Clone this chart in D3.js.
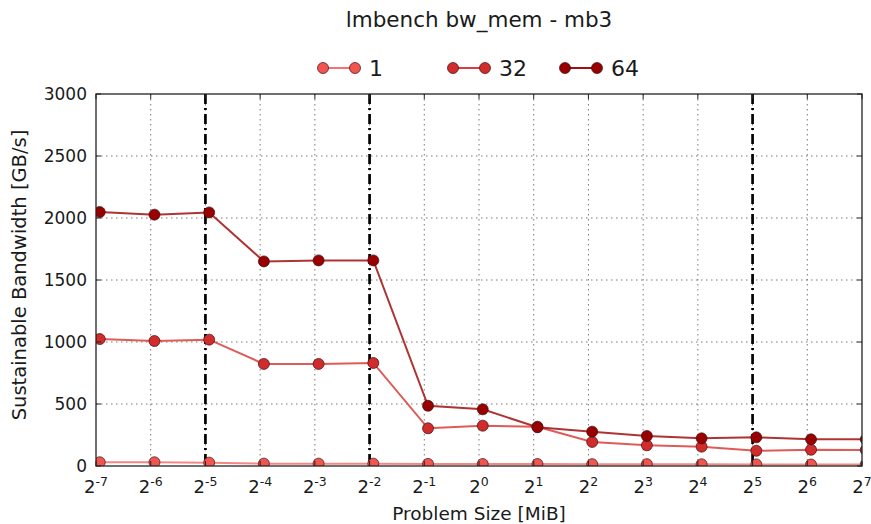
<!DOCTYPE html>
<html>
<head>
<meta charset="utf-8">
<script src="https://cdn.jsdelivr.net/npm/d3@7"></script>
<style>
  body { margin: 0; background: #fff; }
  svg text { font-family: "DejaVu Sans", sans-serif; fill: #1a1a1a; }
</style>
</head>
<body>
<svg id="chart" width="871" height="524"></svg>
<script>
// exponents of the problem size, 2^k MiB
const sizeExponents = [-7, -6, -5, -4, -3, -2, -1, 0, 1, 2, 3, 4, 5, 6, 7];
// sizes were measured in MB, plotted on a MiB axis
const sizeFactor = 1.048576;

const threads = ["1", "32", "64"];
const bw1  = [30, 30, 27, 19, 19, 19, 17, 16, 16, 15, 15, 14, 13, 12, 12];
const bw32 = [1024, 1008, 1019, 823, 823, 831, 304, 325, 317, 194, 167, 156, 123, 131, 129];
const bw64 = [2048, 2027, 2045, 1650, 1658, 1658, 486, 457, 312, 277, 242, 223, 231, 215, 215];

const cacheExponents = [-5, -2, 5];
const yTicks = [0, 500, 1000, 1500, 2000, 2500, 3000];

const series = [
  { name: threads[0], values: bw1,  line: "#f27370", fill: "#f2544e" },
  { name: threads[1], values: bw32, line: "#d83e3b", fill: "#d22b2b" },
  { name: threads[2], values: bw64, line: "#a01010", fill: "#990000" }
];

const margin = { top: 94, right: 9, bottom: 58, left: 96 };
const svg = d3.select("#chart");
const width = +svg.attr("width") - margin.left - margin.right;
const height = +svg.attr("height") - margin.top - margin.bottom;

const x = d3.scaleLog().base(2).domain([Math.pow(2, -7), Math.pow(2, 7)]).range([0, width]);
const y = d3.scaleLinear().domain([0, 3000]).range([height, 0]);

const g = svg.append("g").attr("transform", "translate(" + margin.left + "," + margin.top + ")");

svg.append("defs").append("clipPath").attr("id", "plotClip")
  .append("rect").attr("width", width).attr("height", height);

// grid
const xTickVals = sizeExponents.map(k => Math.pow(2, k));
g.append("g").selectAll("line").data(xTickVals.slice(1, -1)).join("line")
  .attr("x1", d => x(d)).attr("x2", d => x(d)).attr("y1", 0).attr("y2", height)
  .attr("stroke", "#555").attr("stroke-width", 0.8).attr("stroke-dasharray", "1.5,3.5");
g.append("g").selectAll("line").data(yTicks.slice(1, -1)).join("line")
  .attr("x1", 0).attr("x2", width).attr("y1", d => y(d)).attr("y2", d => y(d))
  .attr("stroke", "#555").attr("stroke-width", 0.8).attr("stroke-dasharray", "1.5,3.5");

// cache boundaries
g.append("g").selectAll("line").data(cacheExponents).join("line")
  .attr("x1", d => x(Math.pow(2, d))).attr("x2", d => x(Math.pow(2, d)))
  .attr("y1", 0).attr("y2", height)
  .attr("stroke", "#000").attr("stroke-width", 2.7).attr("stroke-dasharray", "10,4,2,4");

// series
const plot = g.append("g").attr("clip-path", "url(#plotClip)");
const line = d3.line()
  .x((d, i) => x(Math.pow(2, sizeExponents[i]) * sizeFactor))
  .y(d => y(d));

series.forEach(s => {
  plot.append("path").datum(s.values)
    .attr("fill", "none").attr("stroke", s.line).attr("stroke-width", 2)
    .attr("stroke-opacity", 0.85).attr("d", line);
  plot.append("g").selectAll("circle").data(s.values).join("circle")
    .attr("cx", (d, i) => x(Math.pow(2, sizeExponents[i]) * sizeFactor))
    .attr("cy", d => y(d))
    .attr("r", 5.5)
    .attr("fill", s.fill)
    .attr("stroke", "#3a1010").attr("stroke-opacity", 0.7).attr("stroke-width", 1);
});

// frame
g.append("rect").attr("width", width).attr("height", height)
  .attr("fill", "none").attr("stroke", "#222").attr("stroke-width", 1.3);

// ticks (inside, both sides)
const tickLen = 5;
xTickVals.forEach(v => {
  g.append("line").attr("x1", x(v)).attr("x2", x(v)).attr("y1", height).attr("y2", height - tickLen)
    .attr("stroke", "#222");
  g.append("line").attr("x1", x(v)).attr("x2", x(v)).attr("y1", 0).attr("y2", tickLen)
    .attr("stroke", "#222");
});
yTicks.forEach(v => {
  g.append("line").attr("x1", 0).attr("x2", tickLen).attr("y1", y(v)).attr("y2", y(v))
    .attr("stroke", "#222");
  g.append("line").attr("x1", width).attr("x2", width - tickLen).attr("y1", y(v)).attr("y2", y(v))
    .attr("stroke", "#222");
});

// tick labels
g.append("g").selectAll("text").data(yTicks).join("text")
  .attr("x", -9).attr("y", d => y(d)).attr("dy", "0.36em")
  .attr("text-anchor", "end").style("font-size", "17px")
  .text(d => d);

const xl = g.append("g").selectAll("text").data(sizeExponents).join("text")
  .attr("x", d => x(Math.pow(2, d))).attr("y", height + 27)
  .attr("text-anchor", "middle").style("font-size", "18px");
xl.append("tspan").text("2");
xl.append("tspan").attr("dy", "-0.55em").style("font-size", "12.5px").text(d => d < 0 ? "-" + (-d) : d);

// axis labels
g.append("text").attr("x", width / 2).attr("y", height + 54)
  .attr("text-anchor", "middle").style("font-size", "18.5px").text("Problem Size [MiB]");
g.append("text").attr("transform", "translate(" + (-70) + "," + (height / 2 - 5) + ") rotate(-90)")
  .attr("text-anchor", "middle").style("font-size", "19.5px").text("Sustainable Bandwidth [GB/s]");

// title
svg.append("text").attr("x", margin.left + width / 2).attr("y", 27)
  .attr("text-anchor", "middle").style("font-size", "21.5px").text("lmbench bw_mem - mb3");

// legend
const legendX = [323, 453, 565];
const legend = svg.append("g").selectAll("g").data(series).join("g")
  .attr("transform", (d, i) => "translate(" + legendX[i] + ",68)");
legend.append("line").attr("x1", 0).attr("x2", 32).attr("stroke", d => d.line).attr("stroke-width", 2);
legend.selectAll("circle").data(d => [[0, d], [32, d]]).join("circle")
  .attr("cx", d => d[0]).attr("r", 5.5).attr("fill", d => d[1].fill)
  .attr("stroke", "#3a1010").attr("stroke-opacity", 0.7);
legend.append("text").attr("x", 46).attr("dy", "0.36em").style("font-size", "22px").text(d => d.name);
</script>
</body>
</html>
